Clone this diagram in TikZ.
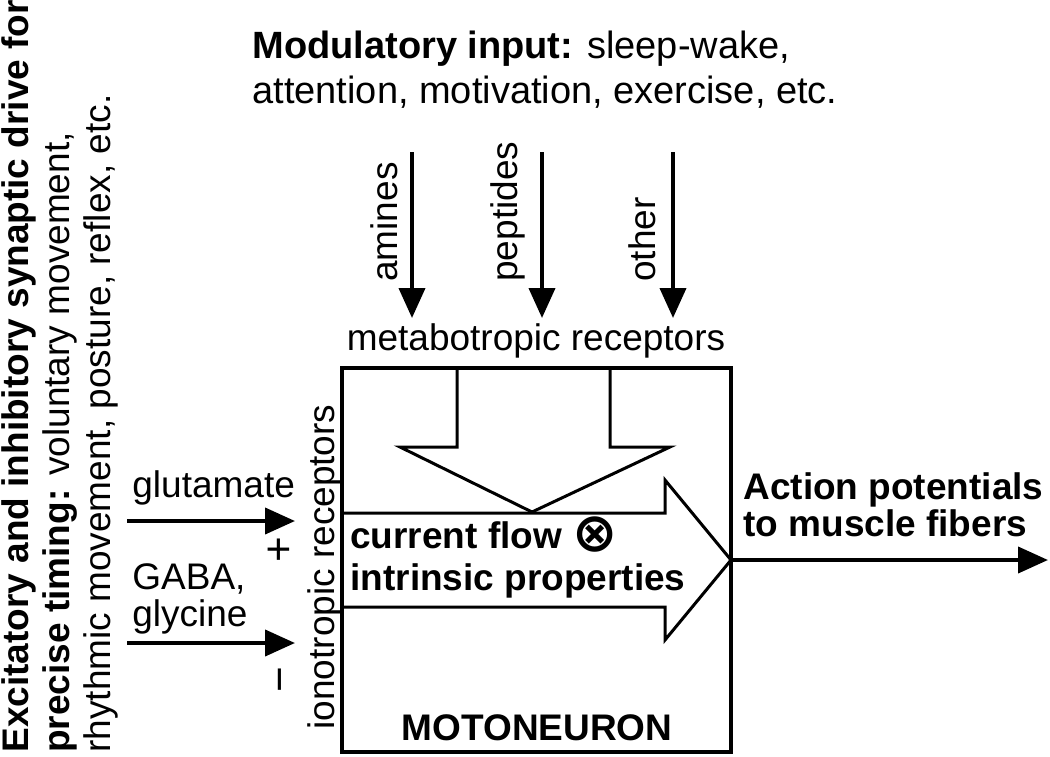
\documentclass[tikz,border=0pt]{standalone}
\usepackage{fontspec}
\setmainfont{Liberation Sans}
\newfontfamily\symfont{DejaVu Sans}
\usetikzlibrary{positioning,arrows.meta,calc}

\begin{document}
\begin{tikzpicture}[
    x=0.5pt, y=-0.5pt,
    txt/.style={font=\fontsize{18.5}{18.5}\selectfont, inner sep=0pt},
    bftxt/.style={font=\fontsize{18.5}{18.5}\selectfont\bfseries, inner sep=0pt},
    sig/.style={draw, line width=2pt, -{Triangle[length=15pt,width=13pt]}},
    blk/.style={draw, line width=1.5pt, fill=white, line join=miter},
    cell/.style={draw, line width=2pt, inner sep=0pt, minimum width=194.5pt, minimum height=192pt}
  ]
  \useasboundingbox (0,0) rectangle (1050,756);

  % synaptic drive (left margin)
  \node (drive) [txt, rotate=90, align=left, anchor=north west, font=\fontsize{18.5}{20.5}\selectfont] at (1,753) {\textbf{Excitatory and inhibitory synaptic drive for}\\\textbf{precise timing:} voluntary movement,\\rhythmic movement, posture, reflex, etc.};

  % modulatory input
  \node (modin) [align=left, anchor=north west, inner sep=0pt, font=\fontsize{19}{22.5}\selectfont] at (252,31) {\textbf{Modulatory input:} sleep-wake,\\attention, motivation, exercise, etc.};

  \coordinate (amines-top) at (412,152);
  \coordinate (peptides-top) at (542,152);
  \coordinate (other-top) at (673,152);
  \coordinate (metab-top) at (536,318);
  \node (amines) [txt, rotate=90, anchor=base west] at (397,282) {amines};
  \node (peptides) [txt, rotate=90, anchor=base west] at (517,282) {peptides};
  \node (other) [txt, rotate=90, anchor=base west] at (655,282) {other};
  \node (metab) [txt, anchor=base] at (536,350) {metabotropic receptors};
  \foreach \m in {amines,peptides,other}
    \draw[sig] (\m-top) -- (\m-top |- metab-top);

  % block arrows inside the cell
  \draw[blk] (342,513) -- (665,513) -- (665,480) -- (731,560) -- (665,640) -- (665,607) -- (342,607) -- cycle;
  \draw[blk] (457,368) -- (457,447) -- (400,447) -- (532,512) -- (670,447) -- (610,447) -- (610,368);
  \node (flow) [align=left, anchor=north west, inner sep=0pt, font=\fontsize{18.5}{21}\selectfont\bfseries] at (350,521) {current flow \raisebox{-1.5pt}{\smash{\symfont\fontsize{27}{21}\selectfont ⊗}}\\intrinsic properties};

  \node (moto) [cell] at (536.5,560) {};
  \node (moto-name) [bftxt, anchor=base] at (537,740) {MOTONEURON};

  % ionotropic inputs
  \coordinate (glu-in) at (127,521);
  \coordinate (glu-out) at (295,521);
  \coordinate (gaba-in) at (127,643);
  \coordinate (gaba-out) at (295,643);
  \node (glu) [txt, anchor=base west] at (132,497) {glutamate};
  \node (gaba) [txt, align=left, anchor=north west] at (132,563) {GABA,\\glycine};
  \draw[sig] (glu-in) -- (glu-out);
  \draw[sig] (gaba-in) -- (gaba-out);
  \node (plus) [rotate=90, inner sep=0pt, font=\fontsize{22}{22}\selectfont] at (281,550) {+};
  \node (minus) [rotate=90, inner sep=0pt, font=\fontsize{22}{22}\selectfont] at (286,680) {−};
  \node (iono) [txt, rotate=90, anchor=base] at (334,567) {ionotropic receptors};

  % output
  \coordinate (tip) at (731,560);
  \coordinate (ap-end) at (1048,560);
  \draw[sig] (tip) -- (ap-end);
  \node (ap) [bftxt, align=left, anchor=north west] at (743,472) {Action potentials\\to muscle fibers};
\end{tikzpicture}
\end{document}
